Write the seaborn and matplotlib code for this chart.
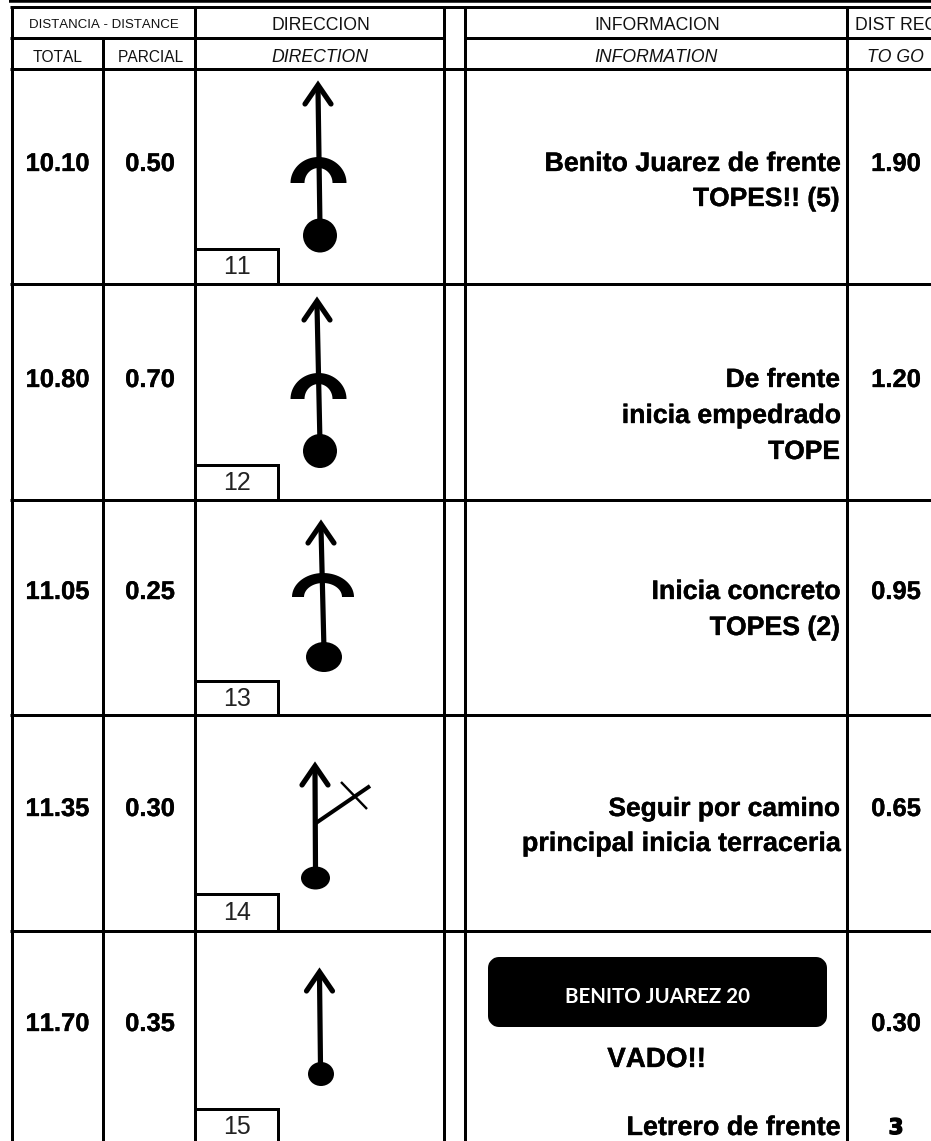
"""Roadbook page, rows 11 to 15."""
import matplotlib
matplotlib.use("Agg")
import matplotlib.patheffects as pe
import matplotlib.pyplot as plt
import numpy as np
import seaborn as sns
from matplotlib.patches import Ellipse, FancyBboxPatch, Polygon

total = ["10.10", "10.80", "11.05", "11.35", "11.70"]
parcial = ["0.50", "0.70", "0.25", "0.30", "0.35"]
to_go = ["1.90", "1.20", "0.95", "0.65", "0.30"]
box_no = ["11", "12", "13", "14", "15"]
info = [
    ["Benito Juarez de frente", "TOPES!! (5)"],
    ["De frente", "inicia empedrado", "TOPE"],
    ["Inicia concreto", "TOPES (2)"],
    ["Seguir por camino", "principal inicia terraceria"],
]
info_size = [[19.3, 19.0], [19.0, 19.2, 19.0], [19.3, 19.2], [19.0, 19.4]]
sign_text = "BENITO JUAREZ 20"

# table rules, pixels
col_x = [11.5, 103, 195, 444, 465, 846.5]
row_y = [284, 499.5, 715, 930.5]
row_bottom = [284, 499.5, 715, 930.5, 1141]
box_top = [248.5, 464.5, 680.5, 893.5, 1108.5]
mid_y = [164, 380, 592, 809, 1024]

# symbols: tip, shaft foot, dot centre and radii, arc centre and radii
tips = [(318, 79), (317, 295), (321, 518), (315, 760), (319.5, 966)]
feet = [(320, 228), (320, 444), (324, 650), (315.5, 870), (320.5, 1066)]
dots = [(320, 235.5, 17, 17), (320, 451, 17, 17), (324, 657, 18, 15), (315.5, 878, 14.5, 11.5), (321, 1074, 13, 12)]
arcs = [(318.5, 183, 28, 26, 14, 15), (318.5, 399, 28, 26, 14, 15), (323, 597, 31, 24, 19, 14), None, None]

sns.set_theme(style="white")
plt.rcParams["font.family"] = ["Liberation Sans", "DejaVu Sans"]
plt.rcParams["text.kerning_factor"] = 6

fig = plt.figure(figsize=(9.31, 11.41), dpi=100)
ax = fig.add_axes([0, 0, 1, 1])
heavy = [pe.withStroke(linewidth=0.25, foreground="black")]


def stroke(xs, ys, w=3.0, cap="butt", join="miter"):
    sns.lineplot(x=xs, y=ys, ax=ax, color="black", linewidth=w * 0.72, estimator=None,
                 sort=False, solid_capstyle=cap, solid_joinstyle=join, legend=False)


def bold(x, y, s, size=18.4, ha="center"):
    ax.text(x, y, s, ha=ha, va="center", fontsize=size, fontweight="bold",
            color="black", path_effects=heavy)


# rules
stroke([9, 931], [1, 1], 3.5)
stroke([10, 931], [6.5, 6.5])
stroke([10, 444], [38, 38])
stroke([465, 931], [38, 38])
stroke([10, 931], [69, 69])
for y in row_y:
    stroke([10, 931], [y, y])
for x in col_x:
    stroke([x, x], [38 if x == 103 else 6.5, 1141])

for i in range(5):
    mid = mid_y[i]
    bold(57.5, mid, total[i])
    bold(150, mid, parcial[i])
    bold(896, mid, to_go[i])

    # number box
    stroke([195, 277.5, 277.5], [box_top[i], box_top[i], row_bottom[i]])
    ax.text(237, (box_top[i] + row_bottom[i]) / 2 + 1 if i < 4 else 1127, box_no[i],
            ha="center", va="center", fontsize=18, color="#222222")

    # road symbol
    tx, ty = tips[i]
    fx, fy = feet[i]
    dx, dy, rx, ry = dots[i]
    stroke([fx, tx], [fy, ty + 10], 5.2)
    stroke([tx - 13, tx, tx + 13], [ty + 25, ty + 6, ty + 25], 5.2, "round")
    ax.add_patch(Ellipse((dx, dy), 2 * rx, 2 * ry, color="black", lw=0))
    if arcs[i] is not None:
        ax_, ay_, orx, ory, irx, iry = arcs[i]
        t = np.linspace(0, np.pi, 40)
        outer = np.c_[ax_ + orx * np.cos(t), ay_ - ory * np.sin(t)]
        inner = np.c_[ax_ + irx * np.cos(t[::-1]), ay_ - iry * np.sin(t[::-1])]
        ax.add_patch(Polygon(np.r_[outer, inner], closed=True, color="black", lw=0))

# side road with cross, row 14
stroke([316, 370], [823, 786], 4.0)
stroke([341, 367], [782, 809], 2.4)

# headers
hdr = dict(ha="center", va="center", color="#111111")
ax.text(104, 25.5, "DISTANCIA - DISTANCE", fontsize=9.5, **hdr)
ax.text(57.5, 57.5, "TOTAL", fontsize=11.2, **hdr)
ax.text(150.5, 57.5, "PARCIAL", fontsize=11.2, **hdr)
ax.text(321, 25, "DIRECCION", fontsize=12.7, **hdr)
ax.text(320, 57, "DIRECTION", fontsize=12.7, style="italic", **hdr)
ax.text(657, 25, "INFORMACION", fontsize=12.7, **hdr)
ax.text(656, 57, "INFORMATION", fontsize=12.7, style="italic", **hdr)
ax.text(855, 25, "DIST REG", fontsize=12.7, ha="left", va="center", color="#111111", clip_on=True)
ax.text(895.5, 57, "TO GO", fontsize=12.7, style="italic", **hdr)

# information texts, right aligned against the column rule
line_y = [[164, 199], [380, 416, 452], [592, 628], [809, 844]]
for lines, ys, sizes in zip(info, line_y, info_size):
    for s, y, fs in zip(lines, ys, sizes):
        bold(840, y, s, fs, ha="right")

# sign, last row
ax.add_patch(FancyBboxPatch((496, 965), 323, 54, boxstyle="round,pad=0,rounding_size=3",
                            fc="black", ec="black", lw=16 * 0.72, joinstyle="round"))
ax.text(657.5, 997, sign_text, ha="center", va="center", fontsize=14.8, fontweight="bold",
        family="Lato", color="white")
bold(656.5, 1060, "VADO!!", 20)
bold(840, 1128, "Letrero de frente", 19.4, ha="right")
ax.text(896, 1128, "3", ha="center", va="center", fontsize=15.5, fontweight="bold",
        family="DejaVu Sans", color="black", path_effects=[pe.withStroke(linewidth=1.0, foreground="black")])

ax.set_xlim(0, 931)
ax.set_ylim(1141, 0)
ax.set_xlabel("")
ax.set_ylabel("")
ax.axis("off")
fig.savefig("out.png", dpi=100, facecolor="white")
